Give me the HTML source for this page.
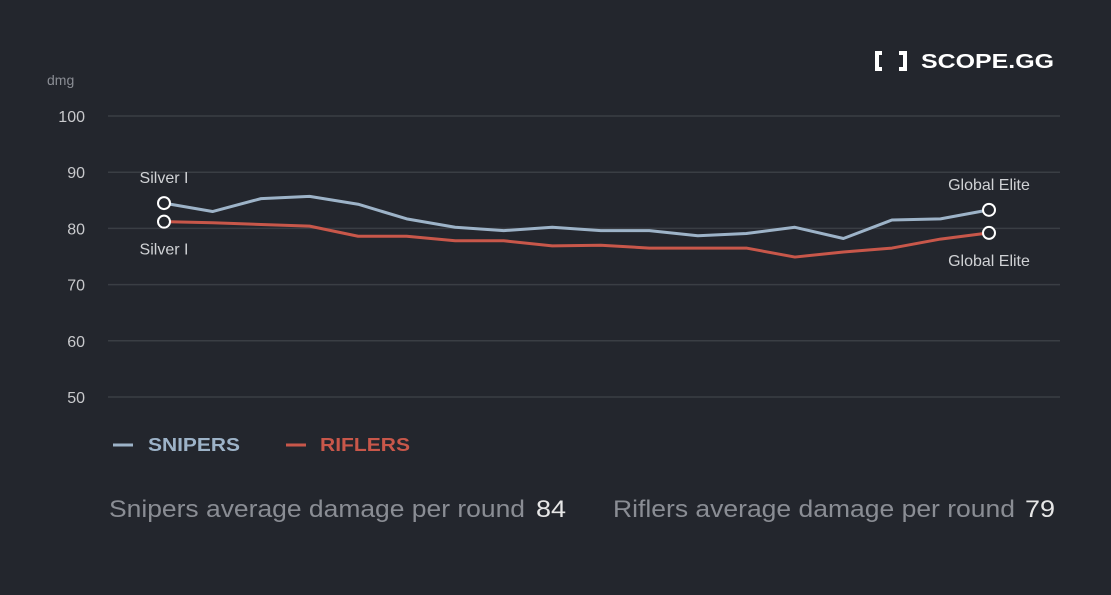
<!DOCTYPE html>
<html><head><meta charset="utf-8"><style>
body{margin:0;background:#23262d;width:1111px;height:595px;overflow:hidden;font-family:"Liberation Sans",sans-serif}
svg{display:block}
</style></head><body>
<svg id="chart" width="1111" height="595" viewBox="0 0 1111 595">
<rect width="1111" height="595" fill="#23262d"/>
<g>
<path d="M882 53 h-5 v16 h5 M899 53 h6 v16 h-6" stroke="#fff" stroke-width="4" fill="none"/>
<text x="921" y="68" fill="#fff" font-size="20" font-weight="bold" textLength="133" lengthAdjust="spacingAndGlyphs">SCOPE.GG</text>
</g>
<text x="47" y="85" fill="#8a8d94" font-size="14">dmg</text>
<g id="grid"></g><g id="series"></g>
<g>
<line x1="113" y1="445" x2="133" y2="445" stroke="#9db3c8" stroke-width="3"/>
<text x="148" y="451" fill="#9db3c8" font-size="18" font-weight="bold" textLength="92" lengthAdjust="spacingAndGlyphs">SNIPERS</text>
<line x1="286" y1="445" x2="306" y2="445" stroke="#c8574a" stroke-width="3"/>
<text x="320" y="451" fill="#c8574a" font-size="18" font-weight="bold" textLength="90" lengthAdjust="spacingAndGlyphs">RIFLERS</text>
</g>
<g>
<text x="109" y="517" fill="#8a8d94" font-size="24" textLength="416" lengthAdjust="spacingAndGlyphs">Snipers average damage per round</text>
<text x="536" y="517" fill="#e6e6e6" font-size="24" textLength="30" lengthAdjust="spacingAndGlyphs">84</text>
</g>
<g>
<text x="613" y="517" fill="#8a8d94" font-size="24" textLength="402" lengthAdjust="spacingAndGlyphs">Riflers average damage per round</text>
<text x="1025" y="517" fill="#e6e6e6" font-size="24" textLength="30" lengthAdjust="spacingAndGlyphs">79</text>
</g>
</svg>
<script>
const yTicks=[100,90,80,70,60,50];
const snipers=[84.5,83,85.3,85.7,84.3,81.7,80.2,79.6,80.2,79.6,79.6,78.7,79.1,80.2,78.2,81.5,81.7,83.3];
const riflers=[81.2,81,80.7,80.4,78.6,78.6,77.8,77.8,76.9,77,76.5,76.5,76.5,74.9,75.8,76.5,78.1,79.2];
const startLabel="Silver I", endLabel="Global Elite";
const NS="http://www.w3.org/2000/svg";
const x=i=>164+i*(989-164)/(snipers.length-1);
const y=v=>397-(v-50)*(397-116)/50;
function mk(t,a,p){const e=document.createElementNS(NS,t);for(const k in a)e.setAttribute(k,a[k]);p.appendChild(e);return e;}
const grid=document.getElementById('grid');
yTicks.forEach(v=>{
 const l=mk('line',{x1:108,x2:1060,y1:y(v),y2:y(v),stroke:'#3a3e44','stroke-width':1.5},grid);
 
 
 const t=mk('text',{x:85,y:y(v)+6,fill:'#c8c9cc','font-size':16,'text-anchor':'end'},grid);
 t.textContent=v;
 
 
});
const sg=document.getElementById('series');
[[snipers,'#9db3c8','snipers-line',-1],[riflers,'#c8574a','riflers-line',1]].forEach(([d,c,n,dir])=>{
 const p=mk('polyline',{points:d.map((v,i)=>x(i)+','+y(v)).join(' '),fill:'none',stroke:c,'stroke-width':3,'stroke-linejoin':'round'},sg);
 
 
 [0,d.length-1].forEach(i=>{
  const ci=mk('circle',{cx:x(i),cy:y(d[i]),r:6,fill:'#23262d',stroke:'#fff','stroke-width':2},sg);
  
  
  const t=mk('text',{x:x(i),y:y(d[i])+(dir<0?-20:33),fill:'#d0d2d5','font-size':16,'text-anchor':'middle'},sg);
  t.textContent=i===0?startLabel:endLabel;
  
  
 });
});
</script>
</body></html>
